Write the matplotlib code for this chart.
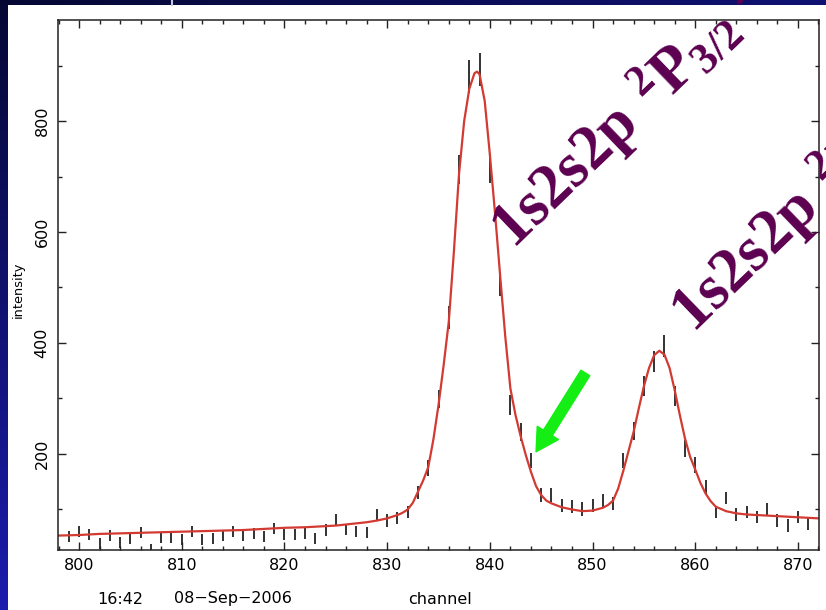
import numpy as np
import matplotlib
matplotlib.use("Agg")
import matplotlib.pyplot as plt
from matplotlib.patches import Rectangle
from matplotlib.ticker import MultipleLocator

plt.rcParams['mathtext.fontset'] = 'custom'
plt.rcParams['mathtext.bf'] = 'Liberation Serif:bold'
plt.rcParams['mathtext.rm'] = 'Liberation Serif:bold'
plt.rcParams['mathtext.default'] = 'bf'

# measured spectrum: channel, counts, error
channel = list(range(799, 872))
counts = [51, 60, 55, 38, 53, 40, 48, 59, 28, 49, 50, 46, 61, 46, 48, 53, 61,
          53, 57, 52, 65, 55, 55, 57, 48, 63, 81, 64, 61, 58, 90, 80, 84, 95,
          131, 175, 299, 446, 712, 880, 893, 715, 506, 288, 239, 188, 126, 126,
          107, 105, 101, 107, 116, 111, 188, 241, 322, 366, 395, 304, 210, 180,
          140, 95, 120, 91, 96, 86, 101, 80, 71, 86, 74]
errors = [10, 10, 10, 10, 10, 10, 10, 10, 10, 10, 10, 10, 10, 10, 10, 10, 10,
          10, 10, 10, 10, 10, 10, 10, 10, 10, 11, 10, 10, 10, 11, 11, 11, 11,
          12, 14, 17, 21, 26, 30, 30, 26, 22, 18, 16, 14, 12, 12,
          12, 12, 12, 12, 12, 12, 14, 16, 18, 19, 20, 18, 15, 14,
          13, 11, 11, 11, 11, 11, 11, 11, 11, 11, 11]

# fitted curve
fit_chan = [798, 800, 802, 804, 806, 808, 810, 812, 814, 816, 818, 820, 822,
            824, 825, 826, 827, 828, 829, 830, 830.5, 831, 831.5, 832, 832.5,
            833, 833.5, 834, 834.5, 835, 835.5, 836, 836.5, 837, 837.5, 838,
            838.5, 838.75, 839, 839.5, 840, 840.5, 841, 841.5, 842, 842.5, 843,
            843.5, 844, 844.5, 845, 845.5, 846, 847, 848, 849, 850, 851, 851.5,
            852, 852.5, 853, 853.5, 854, 854.5, 855, 855.5, 856, 856.5, 857,
            857.5, 858, 858.5, 859, 859.5, 860, 860.5, 861, 861.5, 862, 863,
            864, 865, 866, 867, 868, 869, 870, 871, 872]
fit_counts = [53, 54, 56, 57, 58, 59, 60, 61, 62, 63, 65, 67, 68,
              70, 71, 73, 75, 77, 80, 84, 87, 90, 94, 100, 112,
              132, 152, 176, 226, 288, 360, 438, 565, 705, 800, 858,
              886, 889, 884, 836, 740, 635, 522, 412, 318, 270, 232,
              198, 168, 142, 126, 116, 111, 104, 100, 97, 98, 103, 108,
              116, 138, 170, 205, 240, 282, 322, 355, 378, 386, 379,
              355, 315, 270, 228, 195, 172, 148, 129, 115, 105, 97,
              93, 91, 90, 89, 88, 87, 86, 85, 84]

W, H = 826, 610
fig = plt.figure(figsize=(W / 100, H / 100), dpi=100)

# slide background
bg = fig.add_axes([0, 0, 1, 1])
bg.axis('off')
yy = np.linspace(0, 1, 200)[:, None, None]
xx = np.linspace(0, 1, 200)[None, :, None]
top_c = np.array([0.02, 0.03, 0.20])
bot_c = np.array([0.11, 0.11, 0.68])
img = top_c + (bot_c - top_c) * yy + np.array([0.04, 0.04, 0.25]) * xx * (1 - yy) ** 8
bg.imshow(np.clip(img, 0, 1), extent=[0, 1, 0, 1], aspect='auto', origin='upper')
bg.add_patch(Rectangle((8 / W, 0), 1, 605 / H, transform=bg.transAxes,
                       fc='white', ec='none'))
bg.plot([172 / W, 172 / W], [605 / H, 1], transform=bg.transAxes,
        color='#c8c8d8', lw=1.5)
bg.set_xlim(0, 1)
bg.set_ylim(0, 1)

ax = fig.add_axes([58 / W, 60 / H, 761 / W, 530 / H])
ax.vlines(channel, np.array(counts) - np.array(errors),
          np.array(counts) + np.array(errors), color='#222222', lw=1.3)
ax.plot(fit_chan, fit_counts, color='#d23a32', lw=1.6)

ax.set_xlim(797.95, 872.05)
ax.set_ylim(27, 982)
ax.xaxis.set_major_locator(MultipleLocator(10))
ax.xaxis.set_minor_locator(MultipleLocator(2))
ax.yaxis.set_major_locator(MultipleLocator(200))
ax.yaxis.set_minor_locator(MultipleLocator(100))
ax.tick_params(which='both', direction='in', top=True, right=True,
               width=1.0, color='#222222', labelsize=11.5)
ax.tick_params(which='major', length=5.5)
ax.tick_params(which='minor', length=3)
ax.tick_params(axis='x', pad=6)
ax.tick_params(axis='y', pad=6, labelrotation=90)
for lab in ax.get_yticklabels():
    lab.set_va('center')
for s in ax.spines.values():
    s.set_linewidth(1.1)
    s.set_color('#222222')

# green arrow pointing at the shoulder
ax.annotate('', xy=(844.5, 204), xytext=(849.3, 346),
            arrowprops=dict(arrowstyle='simple,head_length=1.6,head_width=1.8,tail_width=0.75',
                            color='#14ee14', shrinkA=0, shrinkB=0, mutation_scale=10))

# labels
fig.text(18 / W, 1 - 290 / H, 'intensity', rotation=90, fontsize=9.3,
         ha='center', va='center')
fig.text(440 / W, 1 - 599 / H, 'channel', fontsize=11.5, ha='center', va='center')
fig.text(120 / W, 1 - 599 / H, '16:42', fontsize=11.5, ha='center', va='center')
fig.text(233 / W, 1 - 599 / H, '08\u2212Sep\u22122006', fontsize=11.5,
         ha='center', va='center')

purple = '#5c0050'
fig.text(514 / W, 1 - 250 / H, r'$1s2s2p\ {}^{2}P_{3/2}-1s^{2}\ {}^{2}S_{1/2}$',
         fontsize=45, color=purple, rotation=44, rotation_mode='anchor',
         ha='left', va='baseline', zorder=10)
fig.text(694 / W, 1 - 334 / H, r'$1s2s2p\ {}^{2}P_{1/2}-1s^{2}\ {}^{2}S_{1/2}$',
         fontsize=45, color=purple, rotation=44, rotation_mode='anchor',
         ha='left', va='baseline', zorder=10)

fig.savefig('out.png', dpi=100)
